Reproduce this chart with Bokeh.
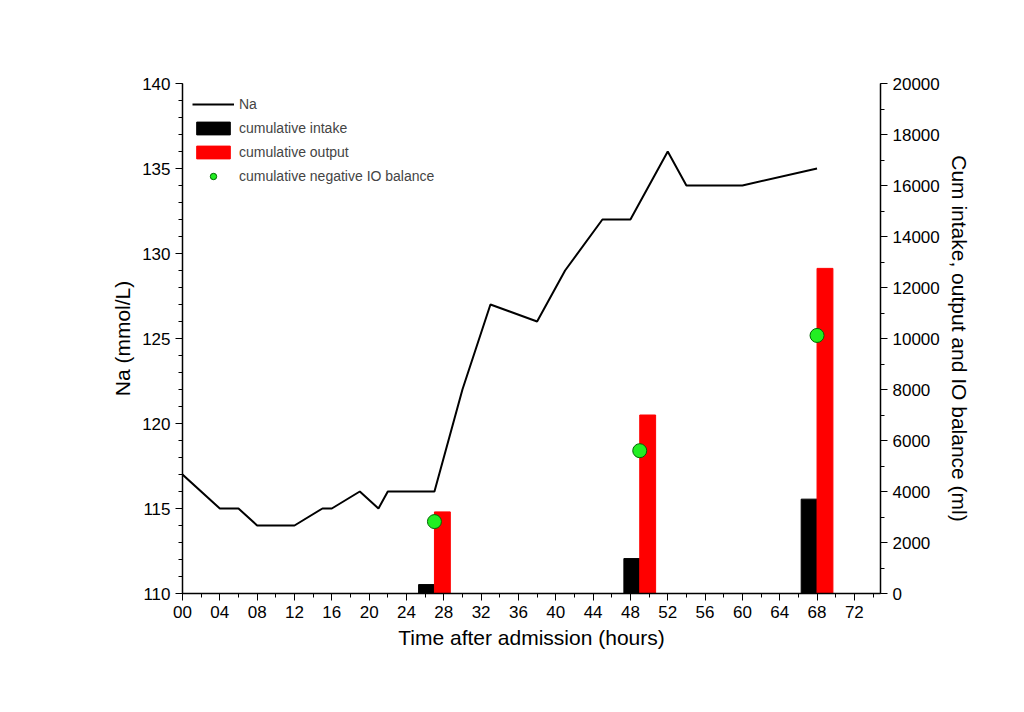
from bokeh.plotting import figure
from bokeh.models import Range1d, LinearAxis, Legend, LegendItem, FixedTicker
from bokeh.embed import file_html
from bokeh.resources import INLINE

na_t = [0, 4, 6, 8, 12, 15, 16, 19, 21, 22, 27, 30, 33, 38, 41, 45, 48, 52, 54, 60, 68]
na_v = [117, 115, 115, 114, 114, 115, 115, 116, 115, 116, 116, 122, 127, 126, 129, 132, 132, 136, 134, 134, 135]
bar_t = [27, 49, 68]
intake = [350, 1370, 3700]
output = [3200, 7000, 12750]
balance_t = [27, 49, 68]
balance = [2820, 5600, 10120]
xticks = list(range(0, 73, 4))

F = "Liberation Sans"
p = figure(width=1000, height=690, output_backend="svg", toolbar_location=None,
           x_range=Range1d(0, 74.8), y_range=Range1d(110, 140),
           min_border_left=182, min_border_right=120, min_border_top=83, min_border_bottom=97)
p.extra_y_ranges = {"r": Range1d(0, 20000)}
p.outline_line_color = None
p.xgrid.visible = False
p.ygrid.visible = False
p.background_fill_color = "white"

bw = 1.7
b1 = p.vbar(x=[t - bw / 2 for t in bar_t], top=intake, bottom=0, width=bw, color="black", y_range_name="r")
b2 = p.vbar(x=[t + bw / 2 for t in bar_t], top=output, bottom=0, width=bw, color="#ff0000", y_range_name="r")
ln = p.line(na_t, na_v, line_color="black", line_width=2)
sc = p.scatter(balance_t, balance, size=14, fill_color="#22ee22", line_color="#006600", y_range_name="r")

ra = LinearAxis(y_range_name="r", axis_label="Cum intake, output and IO balance (ml)")
p.add_layout(ra, "right")
ra.ticker = FixedTicker(ticks=list(range(0, 20001, 2000)), minor_ticks=list(range(0, 20001, 1000)))
ra.axis_label_orientation = "vertical"

p.xaxis.ticker = FixedTicker(ticks=xticks, minor_ticks=list(range(0, 75, 2)))
p.xaxis.major_label_overrides = {t: "%02d" % t for t in xticks}
p.xaxis.axis_label = "Time after admission (hours)"
p.yaxis[0].axis_label = "Na (mmol/L)"
p.yaxis[0].ticker = FixedTicker(ticks=list(range(110, 141, 5)), minor_ticks=list(range(110, 141, 1)))

for ax in [p.xaxis[0], p.yaxis[0], ra]:
    ax.axis_line_color = "black"
    ax.axis_line_width = 1.5
    ax.major_tick_in = 0
    ax.major_tick_out = 7
    ax.minor_tick_in = 0
    ax.minor_tick_out = 4
    ax.major_label_text_font = F
    ax.major_label_text_font_size = "17px"
    ax.major_label_text_color = "black"
    ax.axis_label_text_font = F
    ax.axis_label_text_font_size = "21px"
    ax.axis_label_text_font_style = "normal"
    ax.axis_label_text_color = "black"

leg = Legend(items=[LegendItem(label="Na", renderers=[ln]),
                    LegendItem(label="cumulative intake", renderers=[b1]),
                    LegendItem(label="cumulative output", renderers=[b2]),
                    LegendItem(label="cumulative negative IO balance", renderers=[sc])],
             location="top_left", border_line_color=None, background_fill_alpha=0,
             label_text_font=F, label_text_font_size="14px", spacing=2,
             glyph_width=42, glyph_height=16, label_height=22, padding=2, margin=0)
leg.margin = 0
p.add_layout(leg)
leg.location = (38, -6)
p.legend.location = "top_left"
leg.margin = 10
leg.padding = 0
p.legend[0].location = "top_left"

open("out.html", "w").write(file_html(p, INLINE))
